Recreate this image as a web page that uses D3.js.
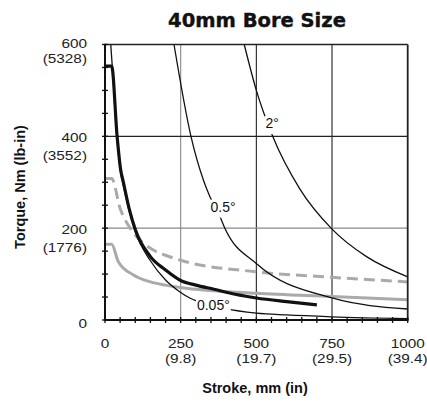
<!DOCTYPE html>
<html>
<head>
<meta charset="utf-8">
<script src="https://cdn.jsdelivr.net/npm/d3@7"></script>
<style>
  body { margin: 0; background: #fff; }
  svg { display: block; }
</style>
</head>
<body>
<svg id="chart" width="427" height="402"></svg>
<script>
// axis ticks
const strokeTicks = [0, 250, 500, 750, 1000];
const strokeInches = ["", "(9.8)", "(19.7)", "(29.5)", "(39.4)"];
const torqueTicks = [0, 200, 400, 600];
const torqueLbIn = ["", "(1776)", "(3552)", "(5328)"];

// series: [stroke mm, torque Nm]
const thickBlack = [[0, 553], [22, 553], [40, 400], [52, 326], [60, 302], [80, 242], [100, 197], [150, 138], [200, 109], [250, 86], [300, 76], [360, 67], [430, 56], [500, 48], [600, 40], [700, 33]];
const grayDashed = [[0, 308], [22, 308], [50, 243], [83, 200], [100, 185], [150, 156], [200, 141], [250, 130], [500, 105], [750, 93], [1000, 83]];
const graySolid = [[0, 165], [22, 165], [44, 127], [94, 98], [150, 83], [200, 76], [250, 71], [500, 58], [750, 51], [1000, 44]];
const deg005 = [[19, 600], [24, 553], [40, 392], [52, 320], [60, 295], [80, 237], [100, 192], [150, 129], [200, 87], [250, 60], [280, 48], [350, 32], [400, 24], [500, 15], [600, 11], [750, 7], [1000, 3]];
const deg05 = [[228, 600], [284, 400], [325, 305], [347, 268], [380, 225], [396, 200], [500, 123], [750, 48], [1000, 24]];
const deg2 = [[460, 600], [500, 500], [554, 400], [644, 285], [750, 198], [864, 138], [1000, 94]];

// curve labels: text, stroke, torque
const curveLabels = [["2°", 552, 418], ["0.5°", 390, 236], ["0.05°", 358, 22]];

const svg = d3.select("#chart");
const font = "'Liberation Sans', Arial, Helvetica, sans-serif";

const x = d3.scaleLinear().domain([0, 1000]).range([105, 407.7]);
const y = d3.scaleLinear().domain([0, 600]).range([320, 44.5]);

svg.append("defs").append("clipPath").attr("id", "plot")
    .append("rect")
    .attr("x", x(0)).attr("y", y(600))
    .attr("width", x(1000) - x(0)).attr("height", y(0) - y(600));

// grid
svg.append("g").selectAll("line")
    .data(strokeTicks.slice(1, 4))
    .enter().append("line")
    .attr("x1", d => x(d)).attr("x2", d => x(d))
    .attr("y1", y(0)).attr("y2", y(600))
    .attr("stroke", d => d === 250 ? "#888" : "#222")
    .attr("stroke-width", 1.1);
svg.append("g").selectAll("line")
    .data(torqueTicks.slice(1, 3))
    .enter().append("line")
    .attr("x1", x(0)).attr("x2", x(1000))
    .attr("y1", d => y(d)).attr("y2", d => y(d))
    .attr("stroke", d => d === 200 ? "#888" : "#222")
    .attr("stroke-width", 1.1);

const line = d3.line()
    .x(d => x(d[0]))
    .y(d => y(d[1]))
    .curve(d3.curveMonotoneX);

const curves = svg.append("g").attr("clip-path", "url(#plot)").attr("fill", "none");

curves.append("path").datum(graySolid).attr("d", line)
    .attr("stroke", "#aaa").attr("stroke-width", 3);
curves.append("path").datum(grayDashed).attr("d", line)
    .attr("stroke", "#aaa").attr("stroke-width", 3)
    .attr("stroke-dasharray", "11,6");

[deg005, deg05, deg2].forEach(s => {
    curves.append("path").datum(s).attr("d", line)
        .attr("stroke", "#111").attr("stroke-width", 1.3);
});

curves.append("path").datum(thickBlack).attr("d", line)
    .attr("stroke", "#111").attr("stroke-width", 3.2);

// curve labels with white gap behind
curveLabels.forEach(l => {
    const g = svg.append("g");
    const t = g.append("text")
        .attr("x", x(l[1])).attr("y", y(l[2]))
        .attr("text-anchor", "middle")
        .attr("font-family", font)
        .attr("font-size", 14)
        .attr("fill", "#111")
        .text(l[0]);
    const b = t.node().getBBox();
    g.insert("rect", "text")
        .attr("x", b.x - 1).attr("y", b.y + 1)
        .attr("width", b.width + 2).attr("height", b.height + 2)
        .attr("fill", "#fff");
});

// frame
svg.append("line").attr("x1", x(0)).attr("x2", x(1000)).attr("y1", y(600)).attr("y2", y(600))
    .attr("stroke", "#222").attr("stroke-width", 1.5);
svg.append("line").attr("x1", x(1000)).attr("x2", x(1000)).attr("y1", y(600)).attr("y2", y(0))
    .attr("stroke", "#222").attr("stroke-width", 1.8);
svg.append("line").attr("x1", x(0)).attr("x2", x(0)).attr("y1", y(600) - 0.7).attr("y2", y(0) + 1)
    .attr("stroke", "#111").attr("stroke-width", 2);
svg.append("line").attr("x1", x(0) - 1).attr("x2", x(1000) + 0.9).attr("y1", y(0)).attr("y2", y(0))
    .attr("stroke", "#111").attr("stroke-width", 2);

// minor ticks crossing the axes
svg.append("g").selectAll("line")
    .data(d3.range(0, 601, 50))
    .enter().append("line")
    .attr("x1", x(0) - 3).attr("x2", x(0) + 3)
    .attr("y1", d => y(d)).attr("y2", d => y(d))
    .attr("stroke", "#111").attr("stroke-width", 1.3);
svg.append("g").selectAll("line")
    .data(d3.range(0, 1001, 50))
    .enter().append("line")
    .attr("x1", d => x(d)).attr("x2", d => x(d))
    .attr("y1", y(0) - 3).attr("y2", y(0) + 3)
    .attr("stroke", "#111").attr("stroke-width", 1.3);

// tick labels
const xt = svg.append("g")
    .attr("font-family", font).attr("font-size", 13)
    .attr("text-anchor", "middle").attr("fill", "#222");
strokeTicks.forEach((v, i) => {
    const t = xt.append("text").attr("transform", `translate(${x(v)},0) scale(1.18,1)`);
    t.append("tspan").attr("x", 0).attr("y", 348).text(v);
    t.append("tspan").attr("x", 0).attr("y", 363).text(strokeInches[i]);
});

const yt = svg.append("g")
    .attr("font-family", font).attr("font-size", 13)
    .attr("text-anchor", "end").attr("fill", "#222");
torqueTicks.forEach((v, i) => {
    const top = v === 600;
    const t = yt.append("text").attr("transform", `translate(87,${y(v)}) scale(1.18,1)`);
    t.append("tspan").attr("x", 0).attr("y", v === 0 ? 8 : (top ? 3.5 : 5.5)).text(v);
    t.append("tspan").attr("x", 0).attr("y", top ? 19 : 24).text(torqueLbIn[i]);
});

// titles
svg.append("text")
    .attr("x", 257).attr("y", 27)
    .attr("text-anchor", "middle")
    .attr("font-family", "'DejaVu Sans', sans-serif")
    .attr("font-weight", "bold")
    .attr("font-size", 19.5)
    .attr("fill", "#111")
    .attr("stroke", "#111")
    .attr("stroke-width", 0.4)
    .text("40mm Bore Size");

svg.append("text")
    .attr("x", 255).attr("y", 393)
    .attr("text-anchor", "middle")
    .attr("font-family", font)
    .attr("font-weight", "bold")
    .attr("font-size", 14.5)
    .attr("fill", "#111")
    .text("Stroke, mm (in)");

svg.append("text")
    .attr("transform", "translate(24.5,187) rotate(-90)")
    .attr("text-anchor", "middle")
    .attr("font-family", font)
    .attr("font-weight", "bold")
    .attr("font-size", 14.5)
    .attr("fill", "#111")
    .text("Torque, Nm (lb-in)");
</script>
</body>
</html>
